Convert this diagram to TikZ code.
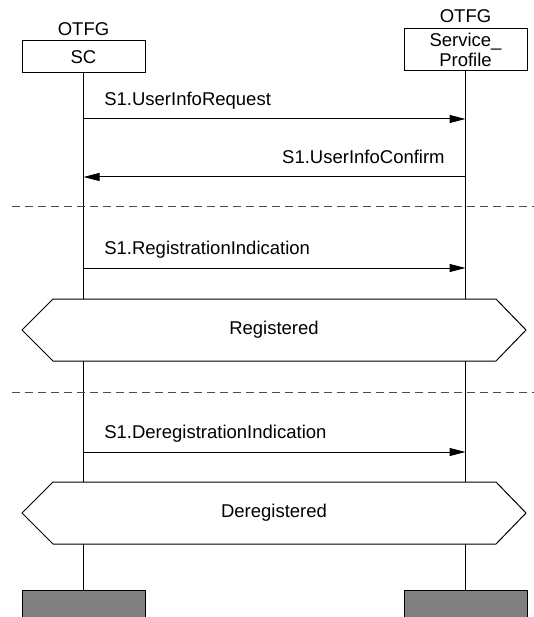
\documentclass[tikz,border=0pt]{standalone}
\usepackage{fontspec}
\setmainfont{Liberation Sans}
\usetikzlibrary{arrows.meta}

\begin{document}
\begin{tikzpicture}[x=1pt,y=-1pt,
  font=\fontsize{18.5}{20}\selectfont,
  line width=1pt,
  box/.style={draw,minimum width=123pt,inner sep=0pt,align=center},
  endbar/.style={draw,fill=black!50,minimum width=123pt,minimum height=32pt},
  msg/.style={-{Triangle[length=16pt,width=8pt]}},
  cut/.style={dash pattern=on 8pt off 5pt,black!70},
  state/.style={draw,fill=white}]
\useasboundingbox (0,0) rectangle (534,617);

\node [box,minimum height=31.5pt] (sc) at (83.5,56.75) {SC};
\node [box,minimum height=42pt] (sp) at (465.5,50) {Service\_\\Profile};
\node [anchor=base] (scorg) at ([yshift=4.5pt]sc.north) {OTFG};
\node [anchor=base] (sporg) at ([yshift=5.5pt]sp.north) {OTFG};
\node [endbar] (scend) at (83.5,606) {};
\node [endbar] (spend) at (465.5,606) {};

\draw (sc) -- (scend);  % lifelines
\draw (sp) -- (spend);

\foreach \n/\y in {1/119,2/177,3/268,4/452}{
    \coordinate (l\n) at (83.5,\y);
    \coordinate (r\n) at (465.5,\y);
}

\draw [msg] (l1) -- (r1);
\node [anchor=base west] (m1) at ([xshift=17pt,yshift=13.5pt]l1) {S1.UserInfoRequest};
\draw [msg] (r2) -- (l2);
\node [anchor=base east] (m2) at ([xshift=-17pt,yshift=13.5pt]r2) {S1.UserInfoConfirm};
\draw [msg] (l3) -- (r3);
\node [anchor=base west] (m3) at ([xshift=17pt,yshift=13.5pt]l3) {S1.RegistrationIndication};
\draw [msg] (l4) -- (r4);
\node [anchor=base west] (m4) at ([xshift=17pt,yshift=13.5pt]l4) {S1.DeregistrationIndication};

\foreach \y in {207,392}
    \draw [cut] (12,\y) -- (534,\y);  % phase separators

\foreach \y/\t/\s in {330/Registered/reg,513/Deregistered/dereg}{
    \draw [state] (22,\y) -- (53,\y-31) -- (496,\y-31) -- (526,\y) -- (496,\y+31) -- (53,\y+31) -- cycle;
    \node (\s) at (274,\y) {\t};
}
\end{tikzpicture}
\end{document}
